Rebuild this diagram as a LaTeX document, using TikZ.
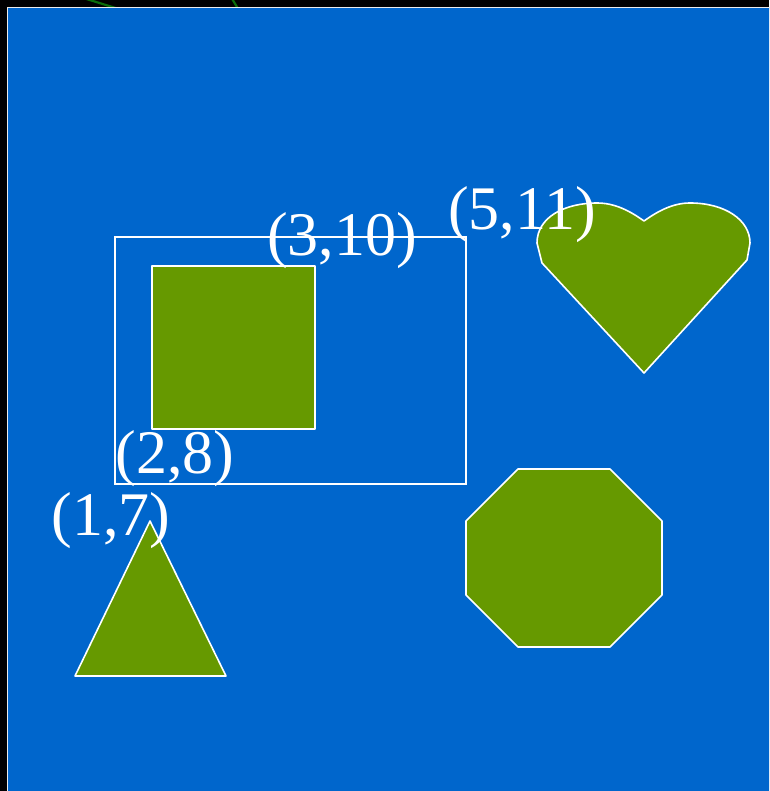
\documentclass[tikz,border=0pt]{standalone}
\usepackage{fontspec}
\setmainfont{Liberation Serif}
\usepackage{xcolor}
\usepackage{tikz}
\definecolor{slideblue}{RGB}{0,102,204}
\definecolor{leafgreen}{RGB}{102,153,0}
\definecolor{stemgreen}{RGB}{10,110,10}

\begin{document}
\begin{tikzpicture}[x=1pt, y=-1pt,
    shapefill/.style={fill=leafgreen, draw=white, line width=1.6pt, line join=round},
    coordlabel/.style={text=white, anchor=base, inner sep=0pt,
                       font=\fontsize{62}{62}\selectfont}]
        \useasboundingbox (0,0) rectangle (769,791);
        \fill[black] (0,0) rectangle (769,791);
        \draw[stemgreen, line width=2.2pt] (80,-3) -- (122,10);
        \draw[stemgreen, line width=2.2pt] (231,-3) -- (240,12);
        \begin{scope}
          \clip (0,0) rectangle (769,791);
          \draw[fill=slideblue, draw=white!85!gray, line width=1pt]
                (7.5,7.5) rectangle (780,800);
        \end{scope}
        % frame and square
        \draw[white, line width=1.2pt] (115,237) rectangle (466,484);
        \draw[shapefill] (152,266) rectangle (315,429);
        % triangle
        \draw[shapefill] (150,521) -- (226,676) -- (75,676) -- cycle;
        % octagon
        \draw[shapefill] (518,469) -- (610,469) -- (662,521) -- (662,595)
              -- (610,647) -- (518,647) -- (466,595) -- (466,521) -- cycle;
        % heart
        \draw[shapefill] (644,373) -- (542,263) -- (537,243)
              .. controls (537,217) and (565,203) .. (597,203)
              .. controls (615,203) and (630,211) .. (644,221)
              .. controls (658,211) and (673,203) .. (690,203)
              .. controls (725,203) and (750,220) .. (750,243)
              -- (747,260) -- cycle;
        % labels
        \node[coordlabel] (lbl310) at (342,255) {(3,10)};
        \node[coordlabel] (lbl511) at (522,230) {(5,11)};
        \node[coordlabel] (lbl28) at (175,473) {(2,8)};
        \node[coordlabel] (lbl17) at (111,535) {(1,7)};
      \end{tikzpicture}
\end{document}
